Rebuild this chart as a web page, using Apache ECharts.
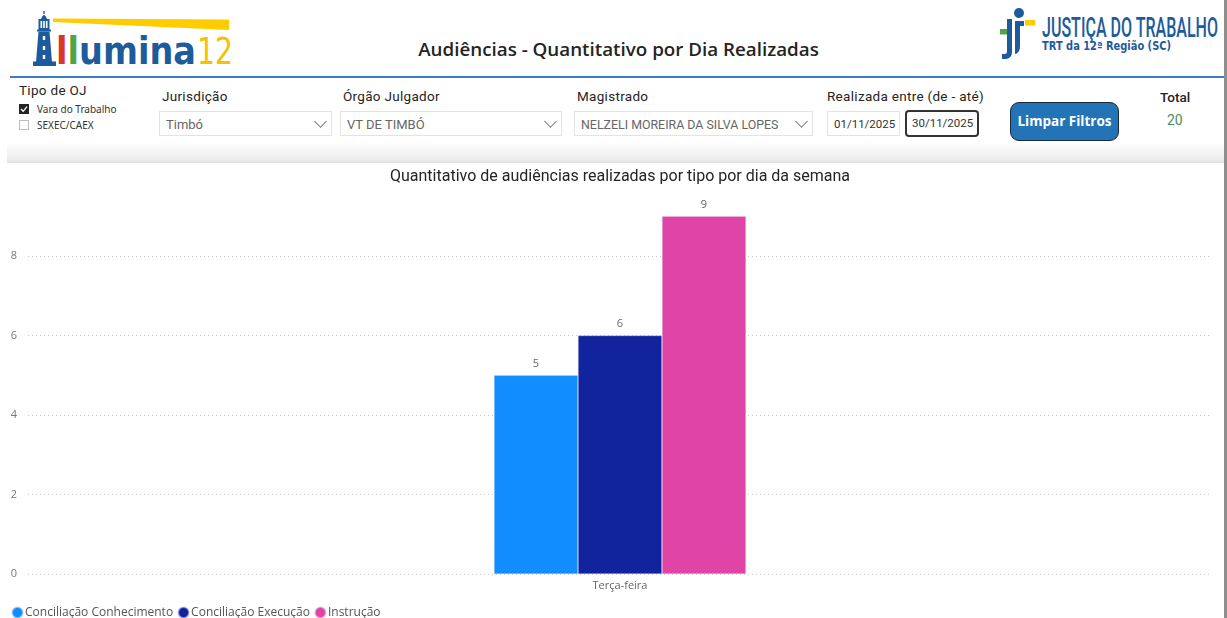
<!DOCTYPE html>
<html>
<head>
<meta charset="utf-8">
<script src="https://cdn.jsdelivr.net/npm/echarts@6/dist/echarts.min.js"></script>
<style>
  html, body { margin:0; padding:0; width:1227px; height:618px; overflow:hidden; background:#fff; font-family:"Open Sans", "Noto Sans", sans-serif; }
  .abs { position:absolute; }
  .lbl { font-family:"Roboto","Noto Sans",sans-serif; font-size:13.5px; color:#252423; letter-spacing:0.3px; }
  .dd { position:absolute; height:25px; border:1px solid #e3e3e3; box-sizing:border-box; background:#fff;
        font-family:"Roboto","Noto Sans",sans-serif; font-size:13px; color:#666; line-height:25px; padding-left:6px; }
  .chev { position:absolute; right:6px; width:8px; height:8px; border-right:1.2px solid #777; border-bottom:1.2px solid #777; transform:rotate(45deg); top:5px; }
  .cb { position:absolute; width:10px; height:10px; box-sizing:border-box; border:1px solid #bbb; background:#fff; }
  .cbtxt { position:absolute; font-family:"Noto Sans",sans-serif; font-size:10px; color:#333; }
  #chart { position:absolute; left:0; top:163px; width:1224px; height:455px; }
</style>
</head>
<body>
<!-- header logo -->
<svg class="abs" style="left:0;top:0" width="300" height="76">
  <polygon points="53,18.5 229,19.5 229,30 53,22" fill="#FFCC00"/>
  <g fill="#1E5B9C">
    <path d="M41,19 Q44,11 47,19 Z"/>
    <rect x="43.3" y="11" width="1.4" height="3"/>
    <rect x="38.5" y="19" width="11" height="11"/>
    <rect x="37" y="29.5" width="14" height="2"/>
    <polygon points="38.5,31.5 49.5,31.5 52,62 36,62"/>
    <rect x="33" y="61.5" width="23" height="4.5"/>
  </g>
  <g fill="#fff">
    <rect x="40.5" y="21" width="1.6" height="7"/><rect x="43.2" y="21" width="1.6" height="7"/><rect x="45.9" y="21" width="1.6" height="7"/>
    <rect x="42.8" y="36" width="2.4" height="4"/><rect x="42.8" y="46" width="2.4" height="4"/><rect x="42.8" y="55" width="2.4" height="4"/>
  </g>
  <text x="56" y="63.5" font-family="DejaVu Sans, sans-serif" font-weight="bold" font-size="37" textLength="140" lengthAdjust="spacingAndGlyphs"><tspan fill="#D8362B">l</tspan><tspan fill="#52A447">l</tspan><tspan fill="#1E5B9C">umina</tspan></text>
  <text x="197" y="63.5" font-family="DejaVu Sans, sans-serif" font-size="37" fill="#F4C200" textLength="36" lengthAdjust="spacingAndGlyphs">12</text>
</svg>
<div class="abs" style="left:0;top:36px;width:1237px;text-align:center;font-family:'Open Sans','Noto Sans',sans-serif;font-weight:600;font-size:18.8px;color:#252423;">Audiências - Quantitativo por Dia Realizadas</div>

<!-- right logo -->
<svg class="abs" style="left:990px;top:0" width="237" height="70">
  <circle cx="29" cy="13" r="5" fill="#1E5B9C"/>
  <rect x="35" y="20" width="10" height="5.5" fill="#FFCC00"/>
  <rect x="10" y="29" width="7" height="5.5" fill="#52A447"/>
  <path d="M17,19 L22,19 L22,52 Q22,58 16,59 L12,59 L12,54 L15,54 Q17,54 17,51 Z" fill="#1E5B9C"/>
  <path d="M25,21 L34,21 L34,26 L30,26 L30,46 Q30,53 25,54 Z" fill="#1E5B9C"/>
  <text x="52" y="37" font-family="Roboto, sans-serif" font-weight="500" font-size="28" fill="#1E5B9C" textLength="176" lengthAdjust="spacingAndGlyphs">JUSTIÇA DO TRABALHO</text>
  <text x="52" y="50" font-family="DejaVu Sans, sans-serif" font-weight="bold" font-size="11.5" fill="#1E5B9C" textLength="129" lengthAdjust="spacingAndGlyphs">TRT da 12ª Região (SC)</text>
</svg>

<!-- blue rule -->
<div class="abs" style="left:10px;top:76px;width:1217px;height:2px;background:#3B7DC4;"></div>

<!-- filter bar -->
<div class="abs lbl" style="left:19px;top:82px;">Tipo de OJ</div>
<div class="cb" style="left:19px;top:104px;background:#252423;border-color:#252423;"></div>
<svg class="abs" style="left:19px;top:104px" width="10" height="10"><polyline points="2,5 4.2,7.3 8,2.6" fill="none" stroke="#fff" stroke-width="1.3"/></svg>
<div class="cbtxt" style="left:37px;top:102px;">Vara do Trabalho</div>
<div class="cb" style="left:19px;top:120px;"></div>
<div class="cbtxt" style="left:37px;top:118px;">SEXEC/CAEX</div>

<div class="abs lbl" style="left:162px;top:88px;">Jurisdição</div>
<div class="dd" style="left:159px;top:111px;width:173px;">Timbó<span class="chev"></span></div>
<div class="abs lbl" style="left:343px;top:88px;">Órgão Julgador</div>
<div class="dd" style="left:340px;top:111px;width:222px;">VT DE TIMBÓ<span class="chev"></span></div>
<div class="abs lbl" style="left:577px;top:88px;">Magistrado</div>
<div class="dd" style="left:574px;top:111px;width:239px;font-size:12.4px;">NELZELI MOREIRA DA SILVA LOPES<span class="chev"></span></div>
<div class="abs lbl" style="left:827px;top:88px;">Realizada entre (de - até)</div>
<div class="dd" style="left:827px;top:111px;width:73px;color:#333;font-size:11.5px;padding-left:6px;">01/11/2025</div>
<div class="dd" style="left:905px;top:110px;width:74px;height:27px;border:2px solid #333;border-radius:4px;color:#333;font-size:11.5px;padding-left:5px;line-height:23px;">30/11/2025</div>
<div class="abs" style="left:1010px;top:102px;width:109px;height:39px;box-sizing:border-box;background:#2274B6;border:1.5px solid #1b2a3a;border-radius:9px;color:#fff;font-family:'Open Sans','Noto Sans',sans-serif;font-weight:700;font-size:13.5px;text-align:center;line-height:36px;">Limpar Filtros</div>
<div class="abs" style="left:1160px;top:89px;font-family:'Roboto','Noto Sans',sans-serif;font-weight:500;font-size:13.5px;color:#252423;">Total</div>
<div class="abs" style="left:1167px;top:112px;font-family:'Roboto','Noto Sans',sans-serif;font-size:14px;color:#4E8B5E;">20</div>

<!-- shadow band -->
<div class="abs" style="left:7px;top:142px;width:1218px;height:21px;background:linear-gradient(#ffffff,#ececec 85%,#dedede);"></div>
<!-- right edge -->
<div class="abs" style="left:1224px;top:0;width:3px;height:618px;background:#8e8e8e;"></div>

<div id="chart"></div>
<script>
const categories = ['Terça-feira'];
const seriesNames = ['Conciliação Conhecimento', 'Conciliação Execução', 'Instrução'];
const conciliacaoConhecimento = [5];
const conciliacaoExecucao = [6];
const instrucao = [9];
const colors = ['#118DFF', '#12239E', '#E044A7'];

const chart = echarts.init(document.getElementById('chart'));
const values = [conciliacaoConhecimento, conciliacaoExecucao, instrucao];
chart.setOption({
  animation: false,
  color: colors,
  title: {
    text: 'Quantitativo de audiências realizadas por tipo por dia da semana',
    left: 385, top: 1,
    textStyle: { fontFamily: 'Roboto, Noto Sans, sans-serif', fontSize: 16, fontWeight: 'normal', color: '#252423' }
  },
  legend: {
    left: 6, top: 438, itemGap: 4, itemWidth: 11, itemHeight: 11, icon: 'circle',
    textStyle: { fontFamily: 'Open Sans, Noto Sans, sans-serif', fontSize: 12, color: '#555', padding: [0, 0, 0, -3] }
  },
  grid: { left: 28, right: 12, top: 13.5, bottom: 44, containLabel: false },
  xAxis: {
    type: 'category', data: categories,
    axisLine: { show: false }, axisTick: { show: false },
    axisLabel: { margin: 6, fontSize: 11, color: '#666', fontFamily: 'Open Sans, Noto Sans, sans-serif' }
  },
  yAxis: {
    type: 'value', min: 0, max: 10, interval: 2,
    axisLabel: { showMaxLabel: false, margin: 11, fontSize: 11, color: '#777', fontFamily: 'Open Sans, Noto Sans, sans-serif' },
    splitLine: { showMaxLine: false, lineStyle: { type: [1, 3], color: '#c8c8c8', width: 1 } }
  },
  series: seriesNames.map((n, i) => ({
    name: n, type: 'bar', data: values[i], barWidth: 84, barGap: '0%',
    itemStyle: { borderColor: 'rgba(220,220,240,0.5)', borderWidth: 0.6 },
    label: { show: true, position: 'top', distance: 6, fontSize: 11, color: '#666', fontFamily: 'Open Sans, Noto Sans, sans-serif' }
  }))
});
</script>
</body>
</html>
